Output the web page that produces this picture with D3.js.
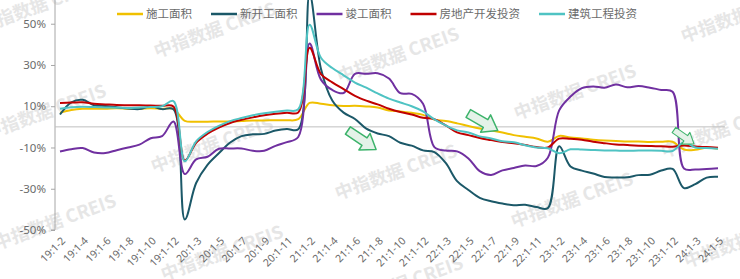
<!DOCTYPE html>
<meta charset="utf-8">
<body style="margin:0;background:#fff">
<div class="chart"></div>
<script src="https://d3js.org/d3.v7.min.js"></script>
<script>

    // 累计同比 (%), 月度 19:1-2 ... 24:1-5
    const categories = [
        "19:1-2","19:1-3","19:1-4","19:1-5","19:1-6","19:1-7","19:1-8","19:1-9","19:1-10","19:1-11","19:1-12",
        "20:1-2","20:1-3","20:1-4","20:1-5","20:1-6","20:1-7","20:1-8","20:1-9","20:1-10","20:1-11","20:1-12",
        "21:1-2","21:1-3","21:1-4","21:1-5","21:1-6","21:1-7","21:1-8","21:1-9","21:1-10","21:1-11","21:1-12",
        "22:1-2","22:1-3","22:1-4","22:1-5","22:1-6","22:1-7","22:1-8","22:1-9","22:1-10","22:1-11","22:1-12",
        "23:1-2","23:1-3","23:1-4","23:1-5","23:1-6","23:1-7","23:1-8","23:1-9","23:1-10","23:1-11","23:1-12",
        "24:1-2","24:1-3","24:1-4","24:1-5"
    ];

    const constructionArea = [
        6.8, 8.2, 8.8, 8.8, 8.8, 9.0, 8.8, 8.7, 9.0, 8.7, 8.7,
        2.9, 2.5, 2.5, 2.6, 2.6, 2.8, 3.1, 3.1, 3.2, 3.2, 3.7,
        11.6, 11.2, 10.5, 10.1, 10.2, 9.9, 9.4, 7.9, 7.5, 6.8, 5.8,
        3.5, 2.8, 1.7, 0.4, -0.8, -1.7, -2.7, -4.0, -4.8, -5.6, -7.2,
        -4.4, -5.2, -5.6, -6.2, -6.6, -6.8, -7.1, -7.1, -7.3, -7.2, -7.2,
        -11.0, -11.1, -10.1, -10.6
    ];

    const newStartArea = [
        6.0, 11.9, 13.1, 10.5, 10.1, 9.5, 8.9, 8.6, 10.0, 8.6, 8.5,
        -44.9, -27.2, -18.4, -12.8, -7.6, -4.5, -3.6, -3.4, -1.8, -1.0, -1.2,
        64.3, 28.2, 12.8, 6.9, 3.8, -0.9, -3.2, -4.5, -7.7, -9.1, -11.4,
        -12.2, -17.5, -26.3, -30.6, -34.4, -36.1, -37.2, -38.0, -37.8, -38.9, -39.4,
        -9.4, -19.2, -21.2, -22.6, -24.3, -24.5, -24.4, -23.4, -23.2, -21.2, -20.4,
        -29.7, -27.8, -24.6, -24.2
    ];

    const completedArea = [
        -11.9, -10.8, -10.3, -12.4, -12.7, -11.3, -10.0, -8.6, -5.5, -4.5, 2.6,
        -22.9, -15.8, -14.5, -10.6, -10.5, -10.5, -11.6, -11.6, -9.2, -7.4, -4.9,
        40.4, 22.9, 17.9, 16.4, 25.7, 25.7, 26.0, 23.4, 16.3, 16.0, 11.2,
        -9.8, -11.5, -11.9, -15.3, -21.5, -23.3, -21.1, -19.9, -18.7, -19.0, -15.0,
        8.0, 14.7, 18.8, 19.6, 19.0, 20.5, 19.2, 19.8, 19.0, 17.9, 17.0,
        -20.2, -20.7, -20.4, -20.1
    ];

    const devInvestment = [
        11.6, 11.8, 11.9, 11.2, 10.9, 10.6, 10.5, 10.5, 10.3, 10.2, 9.9,
        -16.3, -7.7, -3.3, -0.3, 1.9, 3.4, 4.6, 5.6, 6.3, 6.8, 7.0,
        38.3, 25.6, 21.6, 18.3, 15.0, 12.7, 10.9, 8.8, 7.2, 6.0, 4.4,
        3.7, 0.7, -2.7, -4.0, -5.4, -6.4, -7.4, -8.0, -8.8, -9.8, -10.0,
        -5.7, -5.8, -6.2, -7.2, -7.9, -8.5, -8.8, -9.1, -9.3, -9.4, -9.6,
        -9.0, -9.5, -9.8, -10.1
    ];

    const buildingInvestment = [
        8.8, 9.5, 9.8, 9.6, 9.4, 9.3, 9.2, 9.4, 9.6, 10.0, 12.5,
        -16.7, -7.0, -2.5, 0.5, 2.8, 4.3, 5.6, 6.6, 7.3, 7.9, 8.5,
        49.5, 33.5, 28.5, 25.0, 21.5, 19.0, 16.2, 13.7, 11.8, 10.0, 7.5,
        3.6, 0.7, -1.7, -2.7, -4.6, -5.6, -7.0, -7.5, -8.9, -10.0, -10.4,
        -12.8, -10.9, -11.0, -11.2, -11.4, -11.5, -11.6, -11.5, -11.5, -11.6, -11.7,
        -7.5, -10.0, -10.3, -10.6
    ];

    const seriesNames = ["施工面积", "新开工面积", "竣工面积", "房地产开发投资", "建筑工程投资"];
    const seriesColors = ["#f0c000", "#1b5868", "#7030a0", "#c00000", "#4fc3c3"];
    const yTicks = [-50, -30, -10, 10, 30, 50];

    function trendChart(){
        let width = 740;
        let height = 279;

        function chart(selection){
            let series = selection.datum();

            let svg = selection.append("svg")
                .attr("width", width)
                .attr("height", height)
                .style("display", "block");

            let x = d3.scalePoint().domain(categories).range([60, 718]);
            let y = d3.scaleLinear().domain([-50, 61.5]).range([230, 0]);

            // watermark
            let marks = [[40,5],[215,30],[398,55],[575,92],[742,15],[45,112],[212,145],[396,172],
                [572,200],[722,130],[55,222],[222,253],[402,284],[745,240]];
            svg.append("g")
                .selectAll("text")
                .data(marks)
                .join("text")
                .attr("transform", d => `translate(${d[0]},${d[1]}) rotate(-20)`)
                .attr("text-anchor", "middle")
                .attr("dy", "0.35em")
                .attr("fill", "#e6e6e6")
                .style("font-family", "'Noto Sans CJK SC', sans-serif")
                .style("font-size", "18px")
                .style("font-weight", "bold")
                .text("中指数据 CREIS");

            // y axis
            let yAxis = svg.append("g")
                .attr("transform", `translate(55,0)`)
                .call(d3.axisLeft(y).tickValues(yTicks).tickSize(4).tickPadding(5).tickFormat(d => d + "%"));
            yAxis.select(".domain").attr("stroke", "#a6a6a6").attr("d", `M-4,${y(-50)}H0V0`);
            yAxis.selectAll(".tick line").attr("stroke", "#a6a6a6");
            yAxis.selectAll("text")
                .attr("fill", "#6b6b6b")
                .style("font-family", "'Noto Sans', sans-serif")
                .style("font-size", "11.5px");

            // zero line
            svg.append("line")
                .attr("x1", 55).attr("x2", 725)
                .attr("y1", y(0)).attr("y2", y(0))
                .attr("stroke", "#bfbfbf")
                .attr("stroke-width", 1);

            // x labels
            let xAxis = svg.append("g")
                .attr("transform", `translate(0,${y(-50) + 9})`)
                .call(d3.axisBottom(x).tickValues(categories.filter((d, i) => i % 2 === 0)).tickSize(0));
            xAxis.select(".domain").remove();
            xAxis.selectAll("text")
                .attr("x", 0).attr("y", 0).attr("dy", "0.35em")
                .attr("text-anchor", "end")
                .attr("transform", "translate(3,0) rotate(-45)")
                .attr("fill", "#6b6b6b")
                .style("font-family", "'Noto Sans', sans-serif")
                .style("font-size", "10.5px");

            let line = d3.line()
                .x((d, i) => x(categories[i]))
                .y(d => y(d))
                .curve(d3.curveCatmullRom.alpha(0.5));

            svg.append("g")
                .attr("fill", "none")
                .attr("stroke-width", 2)
                .attr("stroke-linejoin", "round")
                .selectAll("path")
                .data(series)
                .join("path")
                .attr("stroke", d => d.color)
                .attr("d", d => line(d.values));

            // green arrows
            let arrowShape = "M-17,-4.5H3V-10L17,0L3,10V4.5H-17Z";
            let arrows = [[362,140,34,1],[483,122,30,1],[684,137,35,0.72]];
            svg.append("g")
                .selectAll("path")
                .data(arrows)
                .join("path")
                .attr("d", arrowShape)
                .attr("transform", d => `translate(${d[0]},${d[1]}) rotate(${d[2]}) scale(${d[3]})`)
                .attr("fill", "#e4f2e8")
                .attr("stroke", "#3db36b")
                .attr("stroke-width", 1.5)
                .attr("stroke-linejoin", "round");

            // legend
            let legend = svg.append("g").attr("transform", "translate(117,14)");
            let offset = 0;
            series.forEach(s => {
                let item = legend.append("g").attr("transform", `translate(${offset},0)`);
                item.append("line")
                    .attr("x1", 0).attr("x2", 26)
                    .attr("stroke", s.color)
                    .attr("stroke-width", 2.5);
                let t = item.append("text")
                    .attr("x", 29)
                    .attr("dy", "0.35em")
                    .attr("fill", "#6b6b6b")
                    .style("font-family", "'Noto Sans CJK SC', sans-serif")
                    .style("font-size", "11.5px")
                    .text(s.name);
                offset += 29 + t.node().getComputedTextLength() + 19;
            });
        }

        chart.width = function (_) {
            return arguments.length ? ((width = _), chart) : width;
        };
        chart.height = function (_) {
            return arguments.length ? ((height = _), chart) : height;
        };
        return chart;
    }

    const seriesData = [constructionArea, newStartArea, completedArea, devInvestment, buildingInvestment]
        .map((values, i) => ({name: seriesNames[i], color: seriesColors[i], values: values}));

    d3.select(".chart")
        .datum(seriesData)
        .call(trendChart());

</script>
